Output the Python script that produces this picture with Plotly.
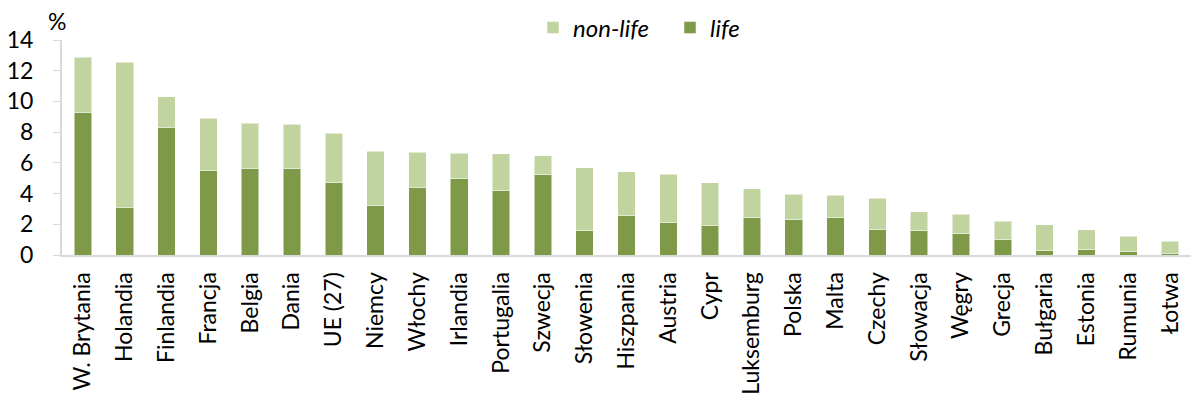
import plotly.graph_objects as go

countries = ["W. Brytania", "Holandia", "Finlandia", "Francja", "Belgia", "Dania", "UE (27)",
             "Niemcy", "Włochy", "Irlandia", "Portugalia", "Szwecja", "Słowenia", "Hiszpania",
             "Austria", "Cypr", "Luksemburg", "Polska", "Malta", "Czechy", "Słowacja", "Węgry",
             "Grecja", "Bułgaria", "Estonia", "Rumunia", "Łotwa"]
life = [9.29, 3.12, 8.31, 5.53, 5.66, 5.62, 4.69, 3.21, 4.41, 4.95, 4.17, 5.21, 1.58, 2.54,
        2.10, 1.95, 2.43, 2.28, 2.41, 1.67, 1.58, 1.37, 0.98, 0.28, 0.35, 0.22, 0.10]
total = [12.87, 12.54, 10.31, 8.92, 8.57, 8.53, 7.92, 6.77, 6.69, 6.62, 6.58, 6.45, 5.68, 5.42,
         5.27, 4.69, 4.30, 3.97, 3.90, 3.69, 2.82, 2.67, 2.21, 1.97, 1.63, 1.22, 0.89]
non_life = [round(t - l, 2) for t, l in zip(total, life)]
y_ticks = [0, 2, 4, 6, 8, 10, 12, 14]

LIFE_C = "#7E9A48"
NONLIFE_C = "#C1D4A0"
FONT = "Lato"

L, R, T, B = 62, 1, 40, 149
W, H = 1192, 404
pw, ph = W - L - R, H - T - B

fig = go.Figure()
fig.add_trace(go.Bar(x=countries, y=life, name="<i>life</i>", marker_color=LIFE_C,
                     marker_line=dict(color="rgba(255,255,255,0.5)", width=1)))
fig.add_trace(go.Bar(x=countries, y=non_life, name="<i>non-life</i>", marker_color=NONLIFE_C,
                     marker_line=dict(color="rgba(255,255,255,0.5)", width=1)))

fig.update_layout(
    width=W, height=H,
    barmode="stack", bargap=0.58,
    plot_bgcolor="white", paper_bgcolor="white",
    margin=dict(l=L, r=R, t=T, b=B, autoexpand=False),
    font=dict(family=FONT, color="#000000"),
    legend=dict(orientation="h", x=(533 - L) / pw, xanchor="left",
                y=1 + (T - 28) / ph, yanchor="middle",
                traceorder="reversed", font=dict(size=24, family=FONT),
                entrywidth=92, entrywidthmode="pixels",
                tracegroupgap=0, bgcolor="rgba(0,0,0,0)"),
    showlegend=True,
)
fig.update_xaxes(showline=True, linecolor="#D9D9D9", linewidth=2, tickangle=-90,
                 tickfont=dict(size=23, family=FONT), ticks="", showgrid=False,
                 range=[-0.5, 26.5], ticklabelstandoff=6)
fig.update_yaxes(range=[0, 14], tickvals=y_ticks, showline=True, linecolor="#D9D9D9",
                 linewidth=2, ticks="outside", ticklen=7, tickcolor="#D9D9D9",
                 tickfont=dict(size=23, family=FONT), showgrid=False, zeroline=False,
                 ticklabelstandoff=15)
fig.add_annotation(text="%", xref="paper", yref="paper", x=(57 - L) / pw, y=1 + (T - 21) / ph,
                   xanchor="center", yanchor="middle", showarrow=False,
                   font=dict(size=23, family=FONT))

fig.write_html("out.html", config={"displayModeBar": False},
               post_script="document.body.style.margin='0px';document.body.style.overflow='hidden';")
